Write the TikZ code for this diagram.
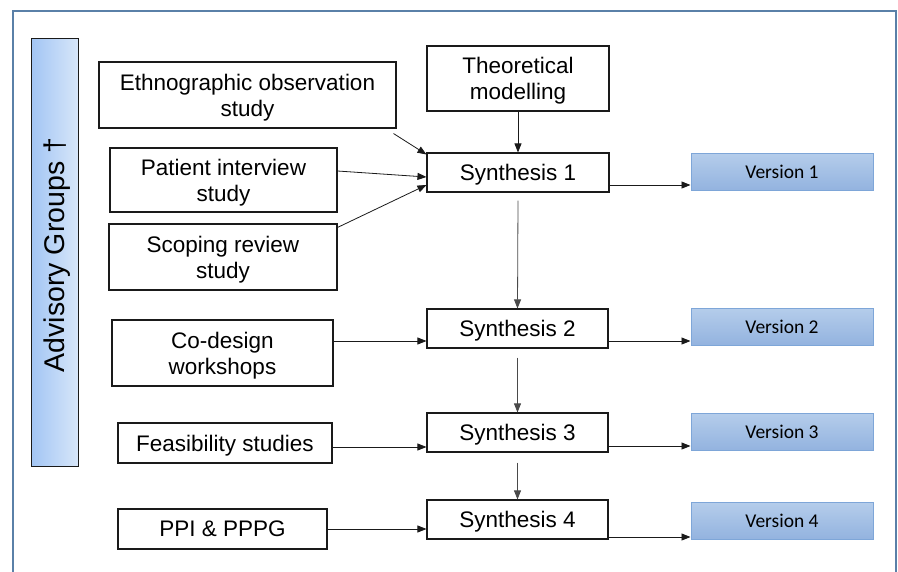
\documentclass[tikz,border=0pt]{standalone}
\usepackage{fontspec}
\setmainfont{Liberation Sans}
\newfontfamily\verfont{Carlito}
\usetikzlibrary{arrows.meta}
\definecolor{framecol}{HTML}{5A80A8}
\definecolor{linecol}{HTML}{1A1A1A}
\definecolor{vlinecol}{HTML}{4A4A4A}
\definecolor{vtop}{HTML}{B5CDEB}
\definecolor{vbot}{HTML}{93B3DF}
\definecolor{vdraw}{HTML}{7EA6D8}
\definecolor{aleft}{HTML}{A2C5F4}
\definecolor{aright}{HTML}{D7E6F9}
\tikzset{
  inbox/.style={draw=linecol, line width=1.1pt, fill=white, inner sep=0pt, align=center,
    text depth=0pt, font=\fontsize{22.5}{26}\selectfont},
  verbox/.style={draw=vdraw, line width=1pt, top color=vtop, bottom color=vbot,
    minimum width=182pt, minimum height=37pt, inner sep=0pt, text depth=0pt,
    font=\verfont\fontsize{19.5}{22}\selectfont},
  arr/.style={draw=linecol, line width=0.8pt, -{Triangle[length=9pt,width=7pt]}},
  varr/.style={draw=vlinecol, line width=0.8pt, -{Triangle[length=9pt,width=7pt]}}
}
\begin{document}
\begin{tikzpicture}[x=1pt,y=-1pt]
\useasboundingbox (0,0) rectangle (898,571);
\fill[white] (0,0) rectangle (898,571);
\draw[framecol, line width=2pt] (13,575) -- (13,11) -- (896,11) -- (896,575);

% advisory bar
\node[draw=linecol, line width=1pt, left color=aleft, right color=aright,
  minimum width=47pt, minimum height=428pt, inner sep=0pt] (adv) at (54.5,252) {};
\node[rotate=90, font=\fontsize{28.5}{32}\selectfont, inner sep=0pt, text depth=0pt] (advtxt) at (54.5,255) {Advisory Groups †};

% input boxes
\node[inbox, minimum width=297pt, minimum height=66pt] (ethno) at (247.5,95) {Ethnographic observation\\study};
\node[inbox, minimum width=182pt, minimum height=65pt] (theo) at (518,78.5) {Theoretical\\modelling};
\node[inbox, minimum width=227pt, minimum height=64pt] (pat) at (223.5,180) {Patient interview\\study};
\node[inbox, minimum width=228pt, minimum height=66pt] (scop) at (223,257) {Scoping review\\study};
\node[inbox, minimum width=221pt, minimum height=66pt] (cod) at (222.5,353) {Co-design\\workshops};
\node[inbox, minimum width=214pt, minimum height=40pt] (feas) at (225,443) {Feasibility studies};
\node[inbox, minimum width=209pt, minimum height=40pt] (ppi) at (222.5,529) {PPI \& PPPG};

% synthesis boxes
\node[inbox, minimum width=182pt, minimum height=39pt] (s1) at (518,172.5) {Synthesis 1};
\node[inbox, minimum width=181pt, minimum height=39pt] (s2) at (517.5,328.5) {Synthesis 2};
\node[inbox, minimum width=181pt, minimum height=39pt] (s3) at (517.5,432.5) {Synthesis 3};
\node[inbox, minimum width=181pt, minimum height=39pt] (s4) at (517.5,519.5) {Synthesis 4};

% version boxes
\node[verbox] (v1) at (782,171.5) {Version 1};
\node[verbox] (v2) at (782,326.5) {Version 2};
\node[verbox] (v3) at (782,431.5) {Version 3};
\node[verbox] (v4) at (782,520.5) {Version 4};

% connectors into synthesis 1
\draw[arr] ([xshift=-3pt,yshift=-5pt]ethno.south east) -- ([yshift=-2pt]s1.north west);
\draw[arr] ([yshift=9pt]pat.east) -- ([yshift=-4.5pt]s1.west);
\draw[arr] ([yshift=-4pt]scop.north east) -- ([yshift=-12.5pt]s1.west);
\draw[arr] (theo.south) -- (s1.north);

% inputs to later syntheses
\draw[arr] ([yshift=12pt]cod.east) -- ([yshift=12pt]cod.east -| s2.west);
\draw[arr] ([yshift=-4pt]feas.east) -- ([yshift=-4pt]feas.east -| s3.west);
\draw[arr] (ppi.east) -- (ppi.east -| s4.west);

% synthesis to version
\draw[arr] ([yshift=-12.5pt]s1.east) -- ([yshift=-12.5pt]s1.east -| v1.west);
\draw[arr] ([yshift=-12.5pt]s2.east) -- ([yshift=-12.5pt]s2.east -| v2.west);
\draw[arr] ([yshift=-13.5pt]s3.east) -- ([yshift=-13.5pt]s3.east -| v3.west);
\draw[arr] ([yshift=-17.5pt]s4.east) -- ([yshift=-17.5pt]s4.east -| v4.west);

% synthesis chain
\draw[varr] ([yshift=-8pt]s1.south) -- (s2.north);
\draw[varr] ([yshift=-9pt]s2.south) -- (s3.north);
\draw[varr] ([yshift=-10pt]s3.south) -- (s4.north);
\end{tikzpicture}
\end{document}
